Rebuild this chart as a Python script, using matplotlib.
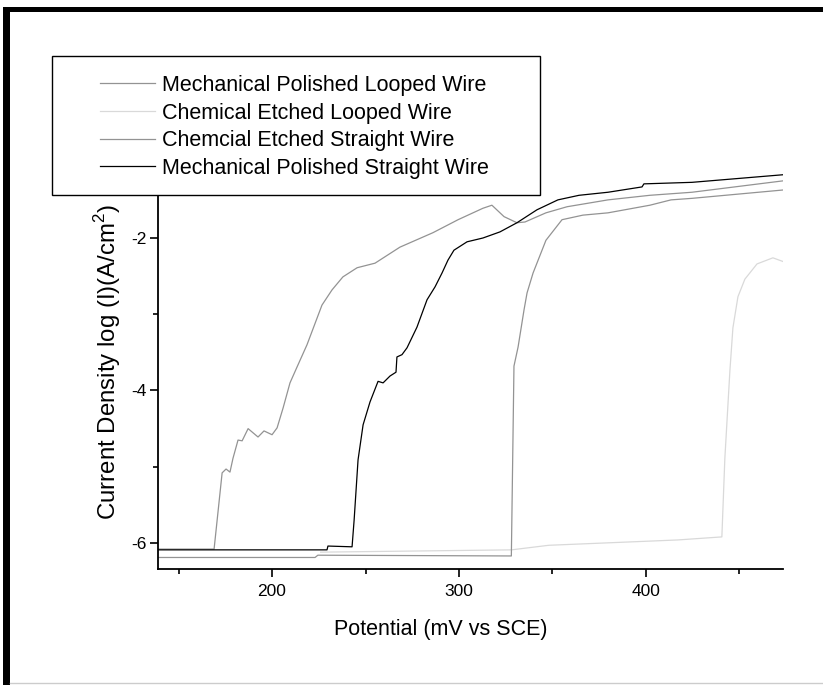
import matplotlib
matplotlib.use("Agg")
import matplotlib.pyplot as plt
from matplotlib.patches import Rectangle
from matplotlib.lines import Line2D
from matplotlib.ticker import MultipleLocator

plt.rcParams["font.family"] = ["Liberation Sans", "DejaVu Sans"]
plt.rcParams["mathtext.fontset"] = "custom"
plt.rcParams["mathtext.rm"] = "Liberation Sans"
plt.rcParams["axes.unicode_minus"] = False

# potential (mV vs SCE) and log current density for each wire
mp_looped_e = [139, 169, 173.3, 175.4, 177.5, 179.1, 181.8, 184.0, 187.2, 192.5, 195.7, 200, 202.7,
               205.9, 209.6, 213.4, 218.7, 226.7, 232.1, 237.9, 245.5, 255.1, 268.4, 286.1, 299.5,
               312.8, 317.6, 324.1, 331.0, 335.3, 346.5, 357.8, 379.7, 402.1, 424.6, 473.5]
mp_looped_i = [-6.08, -6.08, -5.08, -5.03, -5.07, -4.89, -4.65, -4.66, -4.50, -4.61, -4.53, -4.58, -4.49,
               -4.23, -3.90, -3.69, -3.40, -2.88, -2.68, -2.51, -2.39, -2.33, -2.12, -1.93, -1.76,
               -1.61, -1.57, -1.72, -1.80, -1.79, -1.67, -1.59, -1.50, -1.44, -1.40, -1.25]

ce_looped_e = [226, 328, 348, 417, 440.6, 442.2, 444.9, 446.5, 449.2, 452.9, 459.4, 467.9, 473.5]
ce_looped_i = [-6.12, -6.09, -6.03, -5.96, -5.92, -4.89, -3.74, -3.18, -2.77, -2.54, -2.34, -2.26, -2.31]

ce_straight_e = [139, 223, 224.5, 328, 329.4, 331.6, 334.8, 336.4, 339.6, 346.5, 355.1, 366.3, 379.7,
                 402.1, 413.4, 424.6, 473.5]
ce_straight_i = [-6.19, -6.19, -6.16, -6.17, -3.68, -3.43, -2.94, -2.72, -2.46, -2.03, -1.76, -1.70, -1.67,
                 -1.57, -1.50, -1.48, -1.37]

mp_straight_e = [139, 229.4, 229.9, 242.8, 243.9, 246.0, 248.7, 252.4, 256.7, 259.4, 263.1, 266.3, 266.8,
                 269.5, 272.2, 277.5, 282.9, 287.2, 290.9, 294.1, 297.3, 304.3, 312.8, 321.9, 331.0,
                 341.7, 352.9, 364.2, 379.7, 397.9, 398.9, 424.6, 473.5]
mp_straight_i = [-6.09, -6.09, -6.04, -6.05, -5.70, -4.91, -4.45, -4.15, -3.88, -3.90, -3.81, -3.76, -3.56,
                 -3.53, -3.44, -3.17, -2.81, -2.64, -2.46, -2.29, -2.16, -2.05, -2.00, -1.92, -1.80,
                 -1.63, -1.50, -1.44, -1.40, -1.33, -1.29, -1.27, -1.17]

labels = ["Mechanical Polished Looped Wire", "Chemical Etched Looped Wire",
          "Chemcial Etched Straight Wire", "Mechanical Polished Straight Wire"]
colors = ["#939393", "#d9d9d9", "#939393", "#000000"]

W, H = 823, 685


def fx(px):
    return px / W


def fy(py):
    return 1 - py / H


fig = plt.figure(figsize=(W / 100, H / 100), dpi=100)
ax = fig.add_axes([fx(158), fy(569), fx(783) - fx(158), fy(116) - fy(569)])

series = [(mp_looped_e, mp_looped_i), (ce_looped_e, ce_looped_i),
          (ce_straight_e, ce_straight_i), (mp_straight_e, mp_straight_i)]
handles = []
for (e, i), lab, c in zip(series, labels, colors):
    h, = ax.plot(e, i, color=c, lw=0.9, label=lab)
    handles.append(h)

ax.set_xlim(139, 473.3)
ax.set_ylim(-6.341, -0.40)
ax.spines["top"].set_visible(False)
ax.spines["right"].set_visible(False)
for s in ["left", "bottom"]:
    ax.spines[s].set_linewidth(1.3)

ax.xaxis.set_major_locator(MultipleLocator(100))
ax.xaxis.set_minor_locator(MultipleLocator(50))
ax.yaxis.set_major_locator(MultipleLocator(2))
ax.yaxis.set_minor_locator(MultipleLocator(1))
ax.tick_params(which="major", direction="out", length=6, width=1.2, labelsize=12.5)
ax.tick_params(which="minor", direction="out", length=3.5, width=1.2)
ax.tick_params(axis="y", pad=2)
ax.tick_params(axis="x", pad=5)

ax.set_xlabel("Potential (mV vs SCE)", fontsize=15.5)
ax.xaxis.set_label_coords(0.452, -0.110)
ax.set_ylabel("Current Density log (I)(A/cm$^{2}$)", fontsize=17.3)
ax.yaxis.set_label_coords(-0.056, 0.458)

# legend frame and entries
fig.add_artist(Rectangle((fx(52), fy(195)), fx(540) - fx(52), fy(56) - fy(195),
                         transform=fig.transFigure, facecolor="white", edgecolor="black",
                         lw=1.0, zorder=4))
fig.legend(handles, labels, loc="upper left", bbox_to_anchor=(fx(100), fy(75)),
           frameon=False, borderpad=0, borderaxespad=0, fontsize=15.5,
           handlelength=2.55, handletextpad=0.32, labelspacing=0.31).set_zorder(5)

# outer page border
fig.add_artist(Rectangle((fx(3), fy(12)), 1 - fx(3), 5 / H, transform=fig.transFigure,
                         facecolor="black", edgecolor="none", zorder=6))
fig.add_artist(Rectangle((fx(3), 0), 7 / W, fy(7), transform=fig.transFigure,
                         facecolor="black", edgecolor="none", zorder=6))
fig.add_artist(Line2D([fx(10), 1], [fy(683), fy(683)], transform=fig.transFigure,
                      color="#cccccc", lw=1.0, zorder=6))

fig.savefig("out.png", dpi=100)
